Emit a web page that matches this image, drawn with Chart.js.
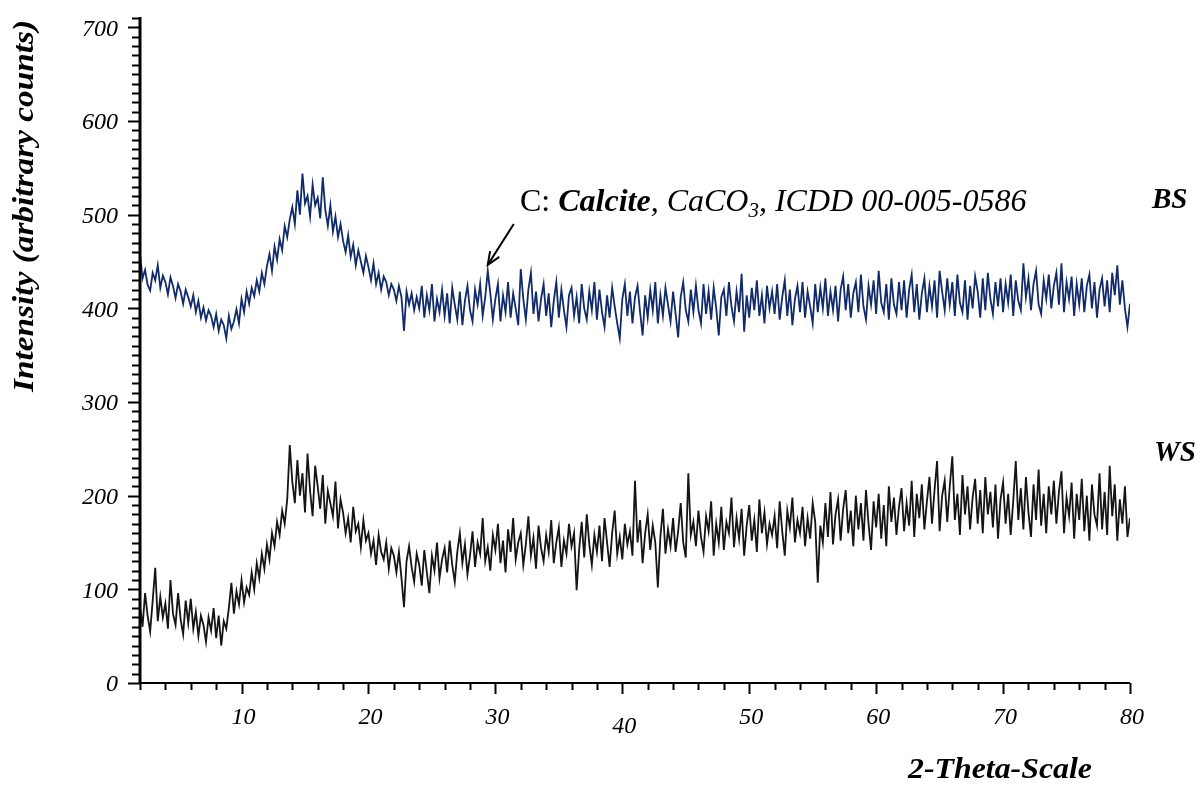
<!DOCTYPE html>
<html>
<head>
<meta charset="utf-8">
<script src="https://cdn.jsdelivr.net/npm/chart.js@4.4.1/dist/chart.umd.min.js"></script>
<style>
  html, body { margin: 0; padding: 0; background: #fff; }
  canvas { display: block; }
</style>
</head>
<body>
<canvas id="xrd" width="1202" height="788"></canvas>
<script>
// scan grid: 2 to 80 deg 2-theta, 0.2 deg step
const thetaStart = 2;
const thetaStep = 0.2;

// BS sample, counts (10 values = 2 deg per row)
const bsCounts = [
  458, 432, 441, 425, 419, 438, 430, 446, 422, 435,
  428, 415, 433, 424, 411, 426, 418, 405, 420, 412,
  402, 414, 396, 408, 390, 401, 387, 398, 392, 380,
  394, 376, 388, 382, 368, 392, 378, 386, 399, 384,
  410, 396, 418, 405, 422, 413, 430, 418, 438, 426,
  445, 458, 440, 466, 452, 474, 462, 488, 476, 495,
  508, 490, 526, 500, 544, 512, 520, 498, 532, 510,
  518, 496, 540, 505, 488, 510, 482, 498, 476, 490,
  472, 460, 478, 455, 468, 446, 462, 450, 438, 456,
  444, 430, 448, 426, 438, 420, 434, 428, 414, 426,
  420, 408, 424, 412, 376, 418, 404, 416, 398, 412,
  400, 424, 390, 414, 398, 426, 386, 410, 396, 420,
  392, 416, 384, 422, 404, 388, 418, 382, 408, 424,
  398, 386, 420, 404, 426, 392, 412, 440, 416, 388,
  410, 426, 386, 414, 396, 428, 390, 416, 400, 382,
  442, 410, 388, 420, 438, 394, 418, 386, 410, 426,
  392, 416, 380, 408, 428, 390, 420, 398, 380, 414,
  422, 392, 412, 384, 426, 400, 388, 418, 398, 428,
  388, 420, 396, 380, 414, 390, 422, 402, 384, 368,
  410, 426, 392, 418, 384, 412, 424, 396, 371, 414,
  390, 420, 398, 428, 384, 414, 392, 422, 404, 386,
  418, 394, 369, 412, 428, 398, 386, 420, 396, 424,
  398, 384, 426, 394, 418, 388, 422, 400, 371, 412,
  420, 392, 428, 402, 386, 418, 396, 437, 375, 414,
  390, 422, 398, 430, 392, 414, 384, 424, 400, 418,
  394, 426, 388, 412, 430, 392, 420, 382, 410, 424,
  396, 428, 390, 418, 402, 384, 426, 396, 422, 400,
  432, 392, 418, 398, 424, 386, 420, 434, 398, 426,
  390, 416, 428, 396, 436, 402, 388, 424, 404, 430,
  394, 440, 406, 396, 426, 388, 432, 404, 394, 428,
  398, 430, 390, 420, 436, 396, 426, 388, 416, 432,
  396, 424, 402, 430, 390, 440, 418, 398, 432, 404,
  428, 392, 436, 406, 396, 430, 388, 424, 400, 434,
  418, 390, 432, 398, 438, 410, 394, 428, 402, 432,
  396, 426, 406, 436, 392, 430, 408, 398, 448, 412,
  432, 398, 426, 440, 404, 394, 430, 410, 436, 400,
  424, 438, 404, 448, 396, 428, 410, 434, 392, 426,
  404, 432, 396, 424, 436, 400, 428, 390, 420, 432,
  402, 430, 396, 438, 414, 446, 404, 430, 400, 380,
  405
];

// WS sample
const wsCounts = [
  82, 60, 96, 72, 55, 88, 123, 66, 92, 70,
  85, 58, 110, 74, 62, 96, 68, 52, 88, 64,
  90, 58, 76, 50, 72, 62, 44, 70, 56, 80,
  48, 72, 40, 66, 58, 80, 107, 74, 98, 84,
  110, 86, 102, 94, 118, 100, 128, 112, 138, 122,
  148, 132, 160, 146, 172, 158, 184, 170, 196, 254,
  215, 192, 238, 200, 224, 182, 245, 205, 178, 232,
  210, 186, 222, 170, 205, 192, 178, 215, 165, 196,
  182, 160, 176, 150, 188, 162, 170, 145, 174, 152,
  160, 138, 152, 126, 158, 140, 132, 150, 122, 144,
  136, 118, 140, 112, 81, 130, 146, 124, 108, 138,
  126, 104, 142, 118, 96, 136, 120, 150, 112, 132,
  144, 118, 152, 126, 108, 140, 160, 128, 148, 116,
  136, 162, 124, 150, 138, 176, 130, 145, 120, 158,
  142, 170, 128, 152, 118, 164, 140, 176, 132, 150,
  160, 126, 148, 178, 136, 155, 122, 168, 144, 130,
  158, 140, 174, 128, 150, 166, 124, 152, 138, 170,
  146, 160, 99, 142, 172, 134, 180, 148, 126, 158,
  140, 168, 130, 176, 150, 124, 160, 184, 138, 156,
  132, 170, 148, 162, 136, 216, 150, 174, 128, 160,
  180, 142, 168, 150, 102, 156, 186, 138, 164, 146,
  176, 140, 162, 192, 150, 134, 224, 158, 172, 146,
  184, 156, 140, 178, 162, 194, 136, 170, 150, 188,
  142, 172, 160, 198, 145, 176, 154, 186, 136, 168,
  190, 152, 174, 140, 196, 160, 182, 148, 170, 158,
  178, 144, 194, 162, 136, 184, 166, 198, 150, 174,
  160, 188, 146, 176, 154, 192, 172, 107, 168, 150,
  192, 156, 204, 148, 180, 196, 152, 186, 206, 160,
  184, 146, 200, 164, 192, 152, 206, 170, 142, 194,
  166, 202, 154, 190, 146, 210, 172, 198, 158, 188,
  208, 162, 192, 168, 216, 156, 202, 176, 212, 164,
  194, 220, 170, 206, 237, 162, 200, 216, 172, 210,
  242, 174, 202, 158, 222, 180, 210, 164, 198, 218,
  170, 206, 160, 220, 180, 204, 166, 212, 154, 196,
  214, 170, 202, 158, 194, 237, 174, 208, 164, 220,
  182, 156, 212, 174, 228, 168, 202, 160, 210, 180,
  216, 170, 204, 226, 160, 198, 178, 214, 154, 202,
  174, 218, 162, 200, 152, 212, 180, 168, 224, 164,
  204, 158, 232, 178, 212, 152, 196, 170, 210, 156,
  176
];

const yTickLabels = ['0', '100', '200', '300', '400', '500', '600', '700'];
const xTickLabels = ['10', '20', '30', '40', '50', '60', '70', '80'];
const seriesNames = ['BS', 'WS'];
const calciteTheta = 29.4;

function toPoints(counts) {
  return counts.map((c, i) => ({ x: thetaStart + i * thetaStep, y: c }));
}

const SERIF = "'Liberation Serif', 'Times New Roman', serif";

// draw text squeezed/stretched to a given width (the old figure uses wide type)
function fitText(ctx, text, cx, cy, width) {
  const w = ctx.measureText(text).width;
  ctx.save();
  ctx.translate(cx, cy);
  ctx.scale(width / w, 1);
  ctx.fillText(text, 0, 0);
  ctx.restore();
}

// axes, ticks and texts drawn by hand so they look like the old plot
const axesPlugin = {
  id: 'xrdAxes',
  afterDraw(chart) {
    const { ctx, scales: { x, y } } = chart;
    const x0 = x.getPixelForValue(2);
    const x1 = x.getPixelForValue(80);
    const y0 = y.getPixelForValue(0);
    const yTop = y.getPixelForValue(711);
    ctx.save();
    ctx.strokeStyle = '#000';
    ctx.lineCap = 'butt';

    // y axis
    ctx.lineWidth = 3;
    ctx.beginPath();
    ctx.moveTo(x0, yTop);
    ctx.lineTo(x0, y0 + 1);
    ctx.stroke();
    ctx.lineWidth = 2;
    for (let v = 0; v <= 710; v += 10) {
      const py = Math.round(y.getPixelForValue(v)) + 0.5;
      const len = v % 100 === 0 ? 12 : 8;
      ctx.beginPath();
      ctx.moveTo(x0 - len, py);
      ctx.lineTo(x0, py);
      ctx.stroke();
    }

    // x axis
    ctx.lineWidth = 2;
    ctx.beginPath();
    ctx.moveTo(x0, y0);
    ctx.lineTo(x1, y0);
    ctx.stroke();
    for (let v = 2; v <= 80; v += 2) {
      const px = Math.round(x.getPixelForValue(v)) + 0.5;
      const len = v % 10 === 0 ? 11 : 7;
      ctx.beginPath();
      ctx.moveTo(px, y0);
      ctx.lineTo(px, y0 + len);
      ctx.stroke();
    }

    // tick labels
    ctx.fillStyle = '#000';
    ctx.font = 'italic 24px ' + SERIF;
    ctx.textAlign = 'right';
    ctx.textBaseline = 'middle';
    yTickLabels.forEach(l => {
      ctx.fillText(l, x0 - 22, y.getPixelForValue(Number(l)) + 2);
    });
    ctx.textAlign = 'center';
    xTickLabels.forEach(l => {
      const drop = l === '40' ? 9 : 0;
      ctx.fillText(l, x.getPixelForValue(Number(l)) + 2, 718 + drop);
    });

    // axis titles
    ctx.font = 'bold italic 29px ' + SERIF;
    ctx.textAlign = 'center';
    fitText(ctx, '2-Theta-Scale', 1000, 771, 184);
    ctx.save();
    ctx.translate(26, 206);
    ctx.rotate(-Math.PI / 2);
    fitText(ctx, 'Intensity (arbitrary counts)', 0, 0, 372);
    ctx.restore();

    // series names
    ctx.font = 'bold italic 29px ' + SERIF;
    ctx.textAlign = 'left';
    ctx.textBaseline = 'alphabetic';
    ctx.fillText(seriesNames[0], 1152, 208);
    ctx.fillText(seriesNames[1], 1154, 461);

    // calcite note
    let tx = 520;
    const base = 211;
    const parts = [
      ['C: ', 'normal 32px '],
      ['Calcite', 'bold italic 32px '],
      [', CaCO', 'italic 32px '],
      ['3', 'italic 21px ', 6],
      [', ICDD 00-005-0586', 'italic 32px ']
    ];
    parts.forEach(p => {
      ctx.font = p[1] + SERIF;
      ctx.fillText(p[0], tx, base + (p[2] || 0));
      tx += ctx.measureText(p[0]).width;
    });

    // arrow to the small calcite peak
    const ax = x.getPixelForValue(calciteTheta);
    const ay = y.getPixelForValue(440) - 6;
    const sx = ax + 26, sy = 224;
    ctx.lineWidth = 2;
    ctx.beginPath();
    ctx.moveTo(sx, sy);
    ctx.lineTo(ax, ay);
    ctx.stroke();
    const ang = Math.atan2(ay - sy, ax - sx);
    ctx.beginPath();
    ctx.moveTo(ax - 14 * Math.cos(ang - 0.4), ay - 14 * Math.sin(ang - 0.4));
    ctx.lineTo(ax, ay);
    ctx.lineTo(ax - 14 * Math.cos(ang + 0.4), ay - 14 * Math.sin(ang + 0.4));
    ctx.stroke();

    ctx.restore();
  }
};

const chart = new Chart(document.getElementById('xrd'), {
  type: 'line',
  data: {
    datasets: [{
      label: seriesNames[0],
      data: toPoints(bsCounts),
      borderColor: '#102a6a',
      borderWidth: 1.8,
      pointRadius: 0,
      tension: 0
    }, {
      label: seriesNames[1],
      data: toPoints(wsCounts),
      borderColor: '#141414',
      borderWidth: 1.8,
      pointRadius: 0,
      tension: 0
    }]
  },
  options: {
    responsive: false,
    animation: false,
    layout: { padding: { left: 140, right: 72, top: 18, bottom: 105 } },
    plugins: { legend: { display: false }, tooltip: { enabled: false } },
    scales: {
      x: { type: 'linear', min: 2, max: 80, display: false },
      y: { min: 0, max: 710, display: false }
    }
  },
  plugins: [axesPlugin]
});
</script>
</body>
</html>
